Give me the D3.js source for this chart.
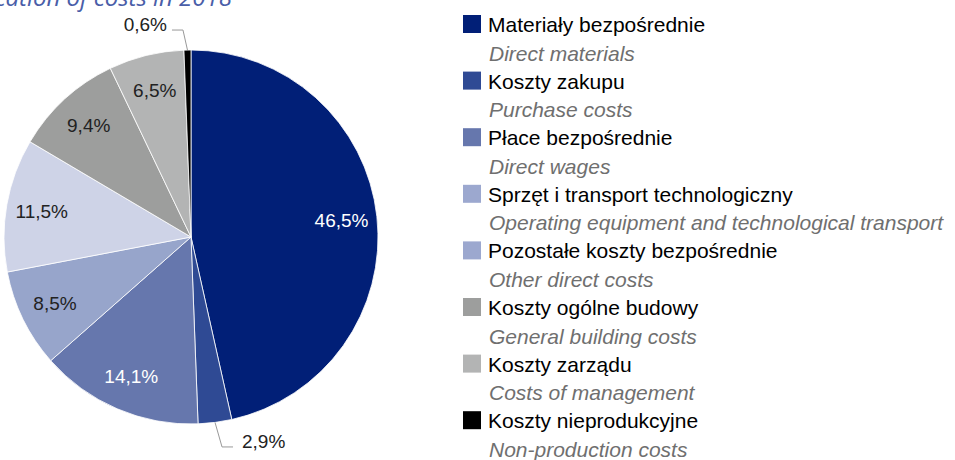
<!DOCTYPE html>
<html>
<head>
<meta charset="utf-8">
<script src="https://cdn.jsdelivr.net/npm/d3@7"></script>
<style>
  html, body { margin: 0; padding: 0; background: #fff; }
  svg { display: block; }
</style>
</head>
<body>
<svg id="chart" width="955" height="460"></svg>
<script>
// ---- data ----
const categoriesPL = [
  "Materiały bezpośrednie",
  "Koszty zakupu",
  "Płace bezpośrednie",
  "Sprzęt i transport technologiczny",
  "Pozostałe koszty bezpośrednie",
  "Koszty ogólne budowy",
  "Koszty zarządu",
  "Koszty nieprodukcyjne"
];
const categoriesEN = [
  "Direct materials",
  "Purchase costs",
  "Direct wages",
  "Operating equipment and technological transport",
  "Other direct costs",
  "General building costs",
  "Costs of management",
  "Non-production costs"
];
const values = [46.5, 2.9, 14.1, 8.5, 11.5, 9.4, 6.5, 0.6];
const sliceColors = ["#011f77", "#2f4a94", "#6677ad", "#97a5cb", "#ced3e7", "#9d9e9d", "#b3b4b4", "#000000"];
const legendColors = ["#011f77", "#2f4a94", "#6677ad", "#9ca8cf", "#9ca8cf", "#9d9e9d", "#b3b4b4", "#000000"];
const labelColors = ["#ffffff", "#222222", "#ffffff", "#222222", "#222222", "#222222", "#222222", "#222222"];
const titleText = "Classification of costs in 2018";

// ---- layout ----
const svg = d3.select("#chart");
const cx = 191, cy = 237, R = 187;
const fmt = v => d3.format(".1f")(v).replace(".", ",") + "%";

// title (cut off at top like the reference)
svg.append("text")
  .attr("x", 232).attr("y", 6)
  .attr("text-anchor", "end")
  .attr("font-family", "'Open Sans', sans-serif")
  .attr("font-style", "italic")
  .attr("font-size", 24)
  .attr("fill", "#4a5ea8")
  .text(titleText);

const pie = d3.pie().sort(null).value(d => d)(values);
const arc = d3.arc().innerRadius(0).outerRadius(R);
const labelArc = d3.arc().innerRadius(R * 0.81).outerRadius(R * 0.81);

const g = svg.append("g").attr("transform", `translate(${cx},${cy})`);

g.selectAll("path.slice")
  .data(pie)
  .join("path")
  .attr("class", "slice")
  .attr("d", arc)
  .attr("fill", (d, i) => sliceColors[i])
  .attr("stroke", "#ffffff")
  .attr("stroke-width", 0.8);

// inside labels (slices large enough)
const insideIdx = [0, 2, 3, 4, 5, 6];
g.selectAll("text.inlab")
  .data(pie.filter((d, i) => insideIdx.includes(i)))
  .join("text")
  .attr("class", "inlab")
  .attr("transform", d => `translate(${labelArc.centroid(d)})`)
  .attr("text-anchor", "middle")
  .attr("dy", "0.36em")
  .attr("font-family", "'Liberation Sans', Arial, sans-serif")
  .attr("font-size", 19)
  .attr("fill", d => labelColors[d.index])
  .text(d => fmt(d.data));

// outside labels with leader lines for small slices
function outside(d, dir, dx, dy, run, gap) {
  const mid = (d.startAngle + d.endAngle) / 2;
  const p0 = [Math.sin(mid) * R, -Math.cos(mid) * R];
  const p1 = [p0[0] + dx, p0[1] + dy];
  const p2 = [p1[0] + dir * run, p1[1]];
  g.append("polyline")
    .attr("points", [p0, p1, p2].map(p => p.join(",")).join(" "))
    .attr("fill", "none")
    .attr("stroke", "#999")
    .attr("stroke-width", 1);
  g.append("text")
    .attr("x", p2[0] + dir * gap)
    .attr("y", p2[1] + 1)
    .attr("text-anchor", dir > 0 ? "start" : "end")
    .attr("font-family", "'Liberation Sans', Arial, sans-serif")
    .attr("font-size", 19)
    .attr("fill", "#222")
    .text(fmt(d.data));
}
outside(pie[1], 1, 7, 24.5, 11, 9);
outside(pie[7], -1, -4.5, -20, 11, 5);

// legend
const lx = 463, ly0 = 32, pitch = 56.6;
const leg = svg.append("g");
categoriesPL.forEach((name, i) => {
  const by = ly0 + i * pitch;
  leg.append("rect")
    .attr("x", lx).attr("y", by - 17)
    .attr("width", 18).attr("height", 18)
    .attr("fill", legendColors[i]);
  leg.append("text")
    .attr("x", lx + 25).attr("y", by)
    .attr("font-family", "'Liberation Sans', Arial, sans-serif")
    .attr("font-size", 21)
    .attr("fill", "#000")
    .text(name);
  leg.append("text")
    .attr("x", lx + 26).attr("y", by + 28.5)
    .attr("font-family", "'Liberation Sans', Arial, sans-serif")
    .attr("font-style", "italic")
    .attr("font-size", 21)
    .attr("fill", "#6f6f6f")
    .text(categoriesEN[i]);
});
</script>
</body>
</html>
